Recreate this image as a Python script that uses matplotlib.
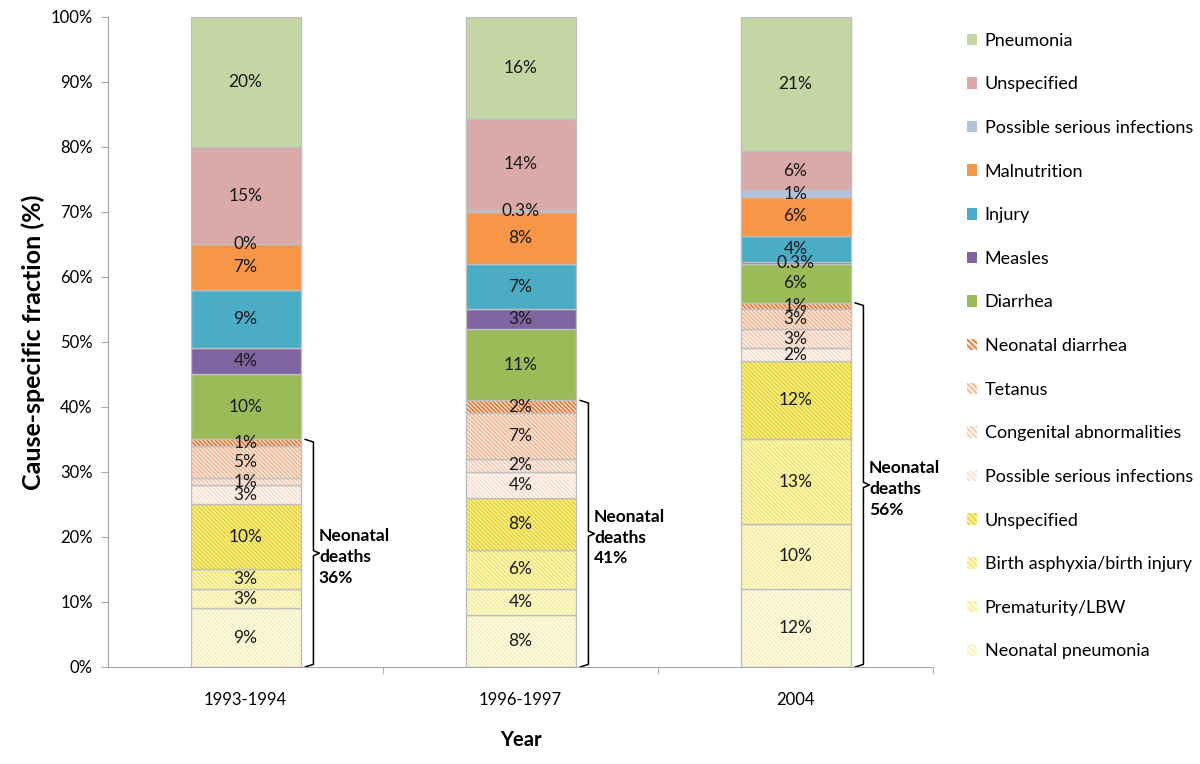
import numpy as np
import matplotlib
matplotlib.use("Agg")
import matplotlib.pyplot as plt
from matplotlib.patches import Patch

plt.rcParams['font.family'] = ['Lato', 'DejaVu Sans']
plt.rcParams['hatch.linewidth'] = 1.0

# Data (percent), bottom to top of each stack
years = ['1993-1994', '1996-1997', '2004']
causes = ['Neonatal pneumonia', 'Prematurity/LBW', 'Birth asphyxia/birth injury',
          'Unspecified', 'Possible serious infections', 'Congenital abnormalities',
          'Tetanus', 'Neonatal diarrhea', 'Diarrhea', 'Measles', 'Injury',
          'Malnutrition', 'Possible serious infections', 'Unspecified', 'Pneumonia']
v_1993 = [9, 3, 3, 10, 3, 1, 5, 1, 10, 4, 9, 7, 0, 15, 20]
v_1996 = [8, 4, 6, 8, 4, 2, 7, 2, 11, 3, 7, 8, 0.3, 14, 15.7]
v_2004 = [12, 10, 13, 12, 2, 3, 3, 1, 6, 0.3, 4, 6, 1, 6, 20.7]
n_neonatal = 8
neonatal_total = [36, 41, 56]

faces = ['#FFFEEA', '#FFFCD2', '#FFFAB8', '#FDF28A', '#FFF9F5', '#FEF3EB',
         '#FDEEE2', '#FCE4D2', '#9BBB59', '#8064A2', '#4BACC6', '#F79646',
         '#B3C3DF', '#DAA9A9', '#C3D6A4']
hatchc = ['#F3EDB8', '#F2EAA0', '#EEE27A', '#E2CF3A', '#F8DCCB', '#F2C6AE',
          '#EEAF8A', '#E2681E', None, None, None, None, None, None, None]

data = np.array([v_1993, v_1996, v_2004]).T
x = np.arange(len(years))
w = 0.4

fig = plt.figure(figsize=(12, 7.64), dpi=100)
ax = fig.add_axes([0.09, 0.127, 0.6875, 0.851])

bottom = np.zeros(len(years))
handles = []
for i, cause in enumerate(causes):
    vals = data[i]
    if hatchc[i]:
        ax.bar(x, vals, w, bottom=bottom, color=faces[i], edgecolor=hatchc[i],
               hatch='\\' * 8, linewidth=0)
        handles.append(Patch(facecolor=faces[i], edgecolor=hatchc[i], hatch='\\' * 6, linewidth=0))
    else:
        ax.bar(x, vals, w, bottom=bottom, color=faces[i], linewidth=0)
        handles.append(Patch(facecolor=faces[i], linewidth=0))
    ax.bar(x, vals, w, bottom=bottom, fill=False, edgecolor='#BFBFBF', linewidth=1)
    for j in range(len(years)):
        v = vals[j]
        lab = f"{v:g}%" if v < 1 else f"{v:.0f}%"
        ax.text(x[j], bottom[j] + v / 2, lab, ha='center', va='center',
                fontsize=12.5, color='#1a1a1a')
    bottom = bottom + vals

# neonatal braces
neo_top = data[:n_neonatal].sum(axis=0)
for j in range(len(years)):
    xb = x[j] + 0.247
    top = neo_top[j]
    mid = top / 2
    ax.plot([xb - 0.03, xb, xb, xb + 0.022, xb, xb, xb - 0.03],
            [top, top - 0.4, mid + 0.4, mid, mid - 0.4, 0.4, 0],
            color='black', lw=1.1, clip_on=False)
    ax.text(xb + 0.02, mid - 0.6, f"Neonatal\ndeaths\n{neonatal_total[j]}%",
            ha='left', va='center', fontsize=12.5, fontweight='bold', linespacing=1.37)

ax.set_xlim(-0.5, 2.5)
ax.set_ylim(0, 100)
ax.set_yticks(np.arange(0, 101, 10))
ax.set_yticklabels([f"{t}%" for t in range(0, 101, 10)], fontsize=12)
ax.set_xticks(x)
ax.set_xticklabels(years, fontsize=12)
ax.set_xticks([0.5, 1.5, 2.5], minor=True)
ax.tick_params(axis='x', which='major', length=0, pad=18)
ax.tick_params(axis='x', which='minor', length=5, color='#A6A6A6')
ax.tick_params(axis='y', length=5, color='#A6A6A6', pad=6)
for s in ['top', 'right']:
    ax.spines[s].set_visible(False)
ax.spines['left'].set_color('#A6A6A6')
ax.spines['bottom'].set_color('#A6A6A6')
ax.set_ylabel('Cause-specific fraction (%)', fontsize=18, fontweight='bold', labelpad=4)
ax.set_xlabel('Year', fontsize=14.5, fontweight='bold', labelpad=16)

fig.legend(handles[::-1], causes[::-1], loc='upper left',
           bbox_to_anchor=(0.798, 0.969), frameon=False, fontsize=13,
           handlelength=0.6, handleheight=0.6, handletextpad=0.4,
           labelspacing=1.53, borderpad=0)

fig.savefig('out.png', dpi=100)
